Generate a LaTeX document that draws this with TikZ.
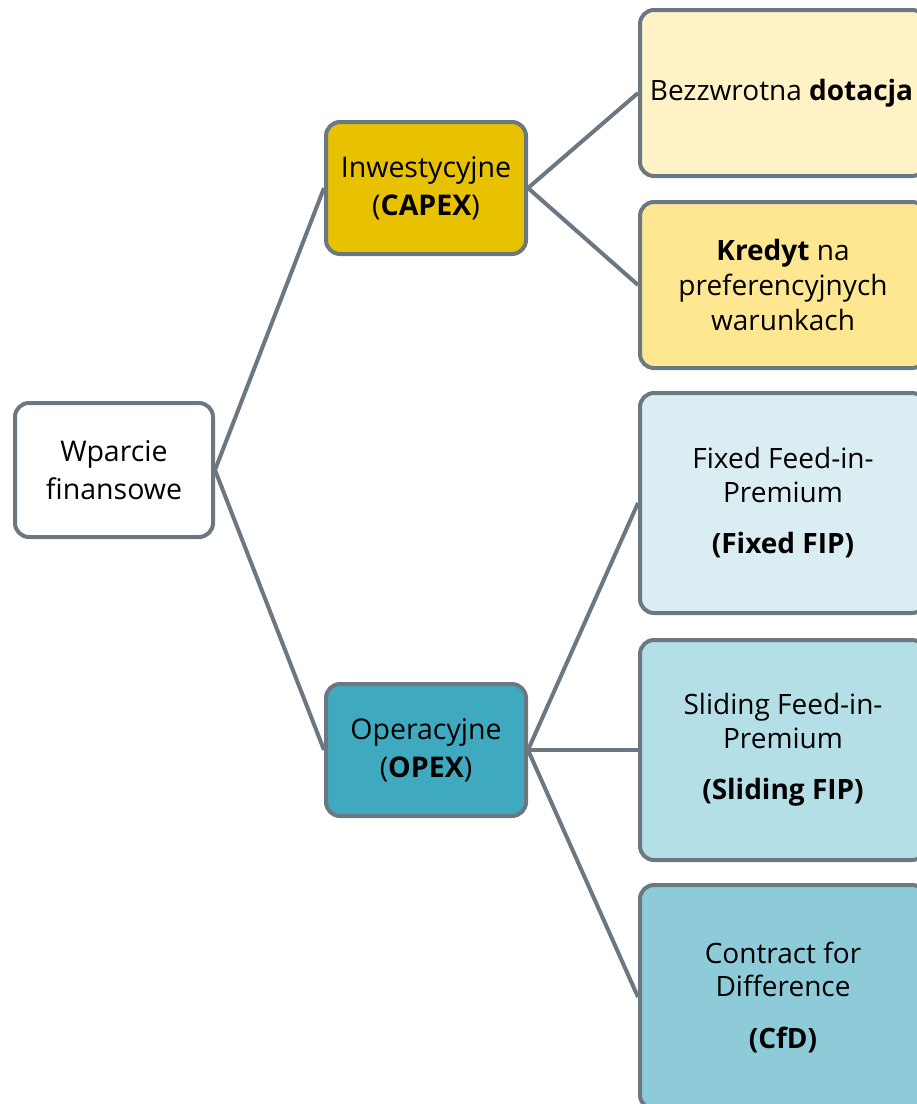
\documentclass[tikz,border=0pt]{standalone}
\usepackage{fontspec}
\setmainfont{Open Sans}
\definecolor{edgec}{HTML}{6B7781}
\definecolor{capexc}{HTML}{E8C200}
\definecolor{opexc}{HTML}{3FAABF}
\definecolor{fa}{HTML}{FFF2C7}
\definecolor{fb}{HTML}{FFE792}
\definecolor{fc}{HTML}{DAEDF2}
\definecolor{fd}{HTML}{B4DFE6}
\definecolor{fe}{HTML}{8DCBD8}
\begin{document}
\begin{tikzpicture}[x=1pt,y=-1pt,
  box/.style={draw=edgec, line width=4pt, rounded corners=14pt, align=center,
    inner sep=0pt, rectangle, font=\fontsize{28.5}{38}\selectfont},
  midbox/.style={box, minimum width=200pt, minimum height=132pt},
  rbox/.style={box, minimum width=286pt, font=\fontsize{28}{33.5}\selectfont},
  link/.style={draw=edgec, line width=4pt}]
\useasboundingbox (0,0) rectangle (917,1104);
\node[box, fill=white, minimum width=198pt, minimum height=134pt] (root) at (114,470) {Wparcie\\finansowe};
\node[midbox, fill=capexc] (capex) at (426,188) {Inwestycyjne\\(\textbf{CAPEX})};
\node[midbox, fill=opexc] (opex) at (426,750) {Operacyjne\\(\textbf{OPEX})};
\node[rbox, fill=fa, minimum height=166pt] (dot) at (783,93) {\hspace*{-3pt}Bezzwrotna \textbf{dotacja}};
\node[rbox, fill=fb, minimum height=166pt, font=\fontsize{28}{35}\selectfont] (kred) at (783,285) {\textbf{Kredyt} na\\preferencyjnych\\warunkach};
\node[rbox, fill=fc, minimum height=220pt] (ffip) at (783,503) {Fixed Feed-in-\\Premium\\[18pt]\textbf{(Fixed FIP)}};
\node[rbox, fill=fd, minimum height=220pt] (sfip) at (783,750) {Sliding Feed-in-\\Premium\\[18pt]\textbf{(Sliding FIP)}};
\node[rbox, fill=fe, minimum height=224pt] (cfd) at (783,997) {Contract for\\Difference\\[18pt]\textbf{(CfD)}};
\draw[link] (root.east) -- (capex.west);
\draw[link] (root.east) -- (opex.west);
\draw[link] (capex.east) -- (dot.west);
\draw[link] (capex.east) -- (kred.west);
\draw[link] (opex.east) -- (ffip.west);
\draw[link] (opex.east) -- (sfip.west);
\draw[link] (opex.east) -- (cfd.west);
\end{tikzpicture}
\end{document}
